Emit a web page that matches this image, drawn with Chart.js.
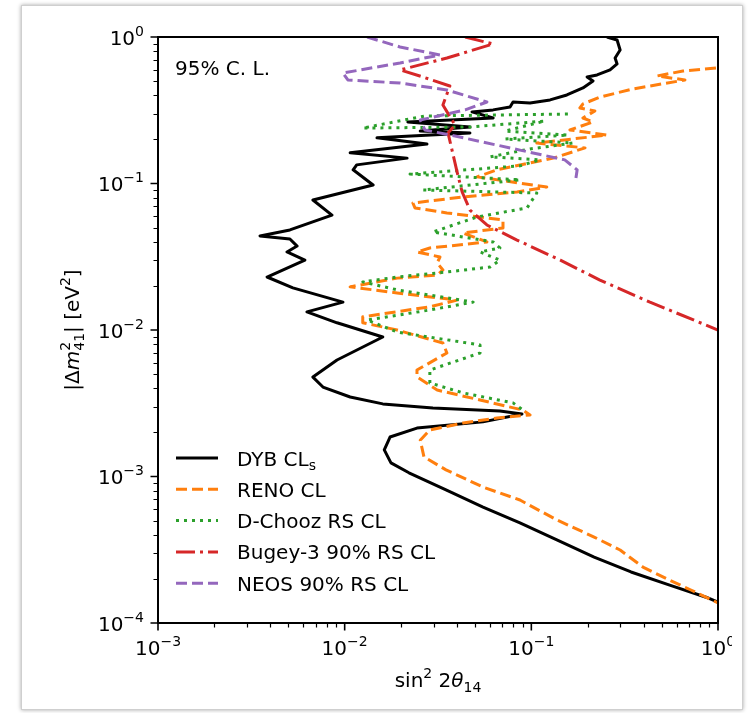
<!DOCTYPE html>
<html>
<head>
<meta charset="utf-8">
<script src="https://cdn.jsdelivr.net/npm/chart.js@4.4.1/dist/chart.umd.min.js"></script>
<style>
    html, body { margin: 0; padding: 0; background: #fff; }
    body { width: 748px; height: 713px; position: relative; overflow: hidden; }
    #card { position: absolute; left: 21px; top: 5px; width: 720px; height: 703px;
            border: 1px solid #cfcfcf; box-shadow: 0 0 4px rgba(0,0,0,0.35); background: #fff; }
    #clip { position: absolute; left: 0; top: 0; width: 732px; height: 708px; overflow: hidden; }
    canvas { display: block; }
</style>
</head>
<body>
<div id="card"></div>
<div id="clip"><canvas id="contourChart" width="748" height="713"></canvas></div>
<script>
// exclusion contours: sin^2(2 theta14) vs |dm41^2| [eV^2]
const dybSin2 = [0.254, 0.288, 0.299, 0.281, 0.288, 0.264, 0.225, 0.199, 0.214, 0.189, 0.155, 0.126, 0.0984, 0.0798,
    0.0769, 0.0624, 0.0481, 0.0624, 0.0218, 0.0469, 0.0254, 0.0469, 0.0149, 0.0276, 0.0107, 0.0216, 0.0116, 0.0111,
    0.0142, 0.00676, 0.00855, 0.00509, 0.00352, 0.00509, 0.00556, 0.00491, 0.00612, 0.00384, 0.00528, 0.00979,
    0.00628, 0.00910, 0.0160, 0.00910, 0.00676, 0.00765, 0.0107, 0.0160, 0.0297, 0.0679, 0.0891, 0.0551, 0.0244,
    0.0175, 0.0163, 0.0177, 0.0221, 0.0349, 0.0551, 0.0869, 0.137, 0.217, 0.342, 0.546, 0.863, 1.0];
const dybDm2 = [1.0, 0.954, 0.815, 0.719, 0.655, 0.596, 0.551, 0.533, 0.501, 0.449, 0.402, 0.372, 0.354, 0.360,
    0.333, 0.318, 0.308, 0.280, 0.263, 0.243, 0.228, 0.221, 0.205, 0.186, 0.162, 0.149, 0.134, 0.124,
    0.0977, 0.0771, 0.0609, 0.0482, 0.0438, 0.0418, 0.0374, 0.0341, 0.0300, 0.0230, 0.0194, 0.0155,
    0.0133, 0.0112, 0.00896, 0.00624, 0.00477, 0.00408, 0.00349, 0.00313, 0.00294, 0.00280, 0.00267, 0.00236, 0.00214,
    0.00186, 0.00152, 0.00124, 0.00106, 0.000809, 0.000619, 0.000482, 0.000369, 0.000282, 0.000223, 0.000182, 0.000150, 0.000139];

const renoSin2 = [0.975, 0.649, 0.471, 0.665, 0.351, 0.233, 0.189, 0.182, 0.219, 0.189, 0.214, 0.161, 0.254, 0.107,
    0.194, 0.131, 0.0655, 0.0512, 0.121, 0.0838, 0.0431, 0.0232, 0.0238, 0.0353, 0.0705, 0.0705, 0.0431, 0.0578,
    0.0286, 0.0244, 0.0324, 0.0313, 0.0336, 0.0313, 0.0191, 0.0107, 0.0191, 0.0400, 0.0286, 0.0125, 0.0125, 0.0191,
    0.0336, 0.0353, 0.0244, 0.0244, 0.0313, 0.0531, 0.0901, 0.0984, 0.0655, 0.0431, 0.0286, 0.0254, 0.0266, 0.0349,
    0.0551, 0.0869, 0.137, 0.217, 0.299, 0.396, 0.546, 0.716, 1.0];
const renoDm2 = [0.614, 0.586, 0.542, 0.509, 0.442, 0.389, 0.349, 0.328, 0.313, 0.280, 0.263, 0.232, 0.214, 0.189,
    0.175, 0.149, 0.124, 0.111, 0.0946, 0.0875, 0.0809, 0.0736, 0.0681, 0.0630, 0.0564, 0.0497, 0.0459, 0.0399,
    0.0363, 0.0341, 0.0315, 0.0287, 0.0257, 0.0237, 0.0226, 0.0197, 0.0179, 0.0160, 0.0144, 0.0123, 0.0112, 0.0100,
    0.00815, 0.00697, 0.00533, 0.00478, 0.00389, 0.00333, 0.00284, 0.00263, 0.00251, 0.00232, 0.00208, 0.00177, 0.00136, 0.00111,
    0.000847, 0.000691, 0.000505, 0.000386, 0.000315, 0.000241, 0.000197, 0.000168, 0.000137];

const dchoozSin2 = [0.157, 0.0269, 0.0125, 0.0469, 0.118, 0.0723, 0.157, 0.0723, 0.167, 0.0984, 0.0601, 0.111, 0.0869,
    0.0224, 0.0869, 0.0263, 0.107, 0.0948, 0.0512, 0.0297, 0.0624, 0.0679, 0.0531, 0.0679, 0.0601, 0.0353, 0.0191,
    0.0125, 0.0191, 0.0488, 0.0286, 0.0132, 0.0191, 0.0531, 0.0531, 0.0286, 0.0286, 0.0431, 0.0798, 0.0901];
const dchoozDm2 = [0.298, 0.289, 0.239, 0.243, 0.267, 0.228, 0.214, 0.201, 0.189, 0.172, 0.152, 0.145, 0.132,
    0.116, 0.106, 0.0903, 0.0861, 0.0681, 0.0591, 0.0467, 0.0399, 0.0363, 0.0341, 0.0300, 0.0269, 0.0249, 0.0230,
    0.0213, 0.0188, 0.0155, 0.0137, 0.0117, 0.00969, 0.00790, 0.00697, 0.00533, 0.00435, 0.00372, 0.00318, 0.00284];

const bugeySin2 = [0.0442, 0.0624, 0.0353, 0.0198, 0.0263, 0.0366, 0.0336, 0.0390, 0.0358, 0.0376, 0.0400, 0.0426,
    0.0469, 0.0578, 0.0838, 0.143, 0.233, 0.432, 1.0];
const bugeyDm2 = [1.0, 0.896, 0.719, 0.596, 0.533, 0.463, 0.343, 0.251, 0.221, 0.169, 0.120, 0.0875,
    0.0659, 0.0521, 0.0411, 0.0300, 0.0219, 0.0155, 0.0100];

const neosSin2 = [0.0132, 0.0198, 0.0324, 0.0198, 0.00979, 0.0104, 0.0198, 0.0353, 0.0578, 0.0442, 0.0254, 0.0269,
    0.0390, 0.0869, 0.151, 0.176, 0.172];
const neosDm2 = [1.0, 0.855, 0.754, 0.665, 0.568, 0.509, 0.485, 0.435, 0.360, 0.318, 0.271, 0.232,
    0.211, 0.169, 0.145, 0.124, 0.102];

const seriesNames = ['DYB CL', 'RENO CL', 'D-Chooz RS CL', 'Bugey-3 90% RS CL', 'NEOS 90% RS CL'];
const seriesSubs = ['s', '', '', '', ''];
const xTickExps = [-3, -2, -1, 0];
const yTickExps = [-4, -3, -2, -1, 0];
const noteText = '95% C. L.';

const FONT = 'DejaVu Sans';

function zip(xs, ys) {
    var n = Math.min(xs.length, ys.length), out = [];
    for (var i = 0; i < n; i++) out.push({ x: xs[i], y: ys[i] });
    return out;
}

function setFont(ctx, size, italic) {
    ctx.font = (italic ? 'italic ' : '') + size + 'px "' + FONT + '"';
}

// small rich text: parts with size, baseline shift, italic, keep (=no advance, for stacked sup/sub)
function richWidth(ctx, parts) {
    var w = 0;
    parts.forEach(function(p) {
        setFont(ctx, p.size || 20, p.italic);
        if (!p.keep) w += ctx.measureText(p.t).width;
    });
    return w;
}

function drawRich(ctx, parts, x, y, align) {
    var w = richWidth(ctx, parts);
    var cx = align === 'center' ? x - w / 2 : (align === 'right' ? x - w : x);
    ctx.textAlign = 'left';
    ctx.textBaseline = 'alphabetic';
    parts.forEach(function(p) {
        setFont(ctx, p.size || 20, p.italic);
        ctx.fillText(p.t, cx, y + (p.dy || 0));
        if (!p.keep) cx += ctx.measureText(p.t).width;
    });
}

function powLabel(e) {
    return [{ t: '10', size: 20 }, { t: (e < 0 ? '\u2212' + (-e) : String(e)), size: 14, dy: -9 }];
}

function makeSet(label, xs, ys, color, dash, order) {
    return {
        label: label,
        data: zip(xs, ys),
        showLine: true,
        borderColor: color,
        backgroundColor: color,
        borderWidth: 3,
        borderDash: dash,
        borderJoinStyle: 'round',
        pointRadius: 0,
        pointHoverRadius: 0,
        tension: 0,
        fill: false,
        order: order
    };
}

// ticks, labels, frame, legend and titles
var decorPlugin = {
    id: 'decor',
    afterDatasetsDraw: function(chart) {
        var ctx = chart.ctx, a = chart.chartArea;
        var xs = chart.scales.x, ys = chart.scales.y;
        ctx.save();
        ctx.strokeStyle = '#000';
        ctx.fillStyle = '#000';

        // minor ticks
        ctx.lineWidth = 1.2;
        ctx.beginPath();
        for (var e = xTickExps[0]; e < xTickExps[xTickExps.length - 1]; e++) {
            for (var m = 2; m <= 9; m++) {
                var px = Math.round(xs.getPixelForValue(m * Math.pow(10, e))) + 0.5;
                ctx.moveTo(px, a.bottom); ctx.lineTo(px, a.bottom + 4.5);
            }
        }
        for (var e2 = yTickExps[0]; e2 < yTickExps[yTickExps.length - 1]; e2++) {
            for (var m2 = 2; m2 <= 9; m2++) {
                var py = Math.round(ys.getPixelForValue(m2 * Math.pow(10, e2))) + 0.5;
                ctx.moveTo(a.left, py); ctx.lineTo(a.left - 4.5, py);
            }
        }
        ctx.stroke();

        // major ticks + labels
        ctx.lineWidth = 1.6;
        ctx.beginPath();
        xTickExps.forEach(function(e) {
            var px = xs.getPixelForValue(Math.pow(10, e));
            ctx.moveTo(px, a.bottom); ctx.lineTo(px, a.bottom + 7.5);
        });
        yTickExps.forEach(function(e) {
            var py = ys.getPixelForValue(Math.pow(10, e));
            ctx.moveTo(a.left, py); ctx.lineTo(a.left - 7.5, py);
        });
        ctx.stroke();
        xTickExps.forEach(function(e) {
            drawRich(ctx, powLabel(e), xs.getPixelForValue(Math.pow(10, e)), a.bottom + 32, 'center');
        });
        yTickExps.forEach(function(e) {
            drawRich(ctx, powLabel(e), a.left - 14, ys.getPixelForValue(Math.pow(10, e)) + 7.5, 'right');
        });

        // frame
        ctx.lineWidth = 2;
        ctx.strokeRect(a.left, a.top, a.right - a.left, a.bottom - a.top);

        // axis titles
        drawRich(ctx, [
            { t: 'sin' }, { t: '2', size: 14, dy: -9 }, { t: ' 2' }, { t: '\u03b8', italic: true },
            { t: '14', size: 14, dy: 5 }
        ], (a.left + a.right) / 2, a.bottom + 64, 'center');

        ctx.save();
        ctx.translate(79, (a.top + a.bottom) / 2);
        ctx.rotate(-Math.PI / 2);
        drawRich(ctx, [
            { t: '|' }, { t: '\u0394' }, { t: 'm', italic: true },
            { t: '2', size: 14, dy: -9, keep: true }, { t: '41', size: 14, dy: 5 },
            { t: '|' }, { t: ' [eV' }, { t: '2', size: 14, dy: -9 }, { t: ']' }
        ], 0, 0, 'center');
        ctx.restore();

        // note
        drawRich(ctx, [{ t: noteText }], a.left + 17, a.top + 38, 'left');

        // legend
        chart.data.datasets.forEach(function(ds, i) {
            var cy = 458 + i * 31.3;
            ctx.save();
            ctx.strokeStyle = ds.borderColor;
            ctx.lineWidth = ds.borderWidth;
            ctx.setLineDash(ds.borderDash);
            ctx.beginPath();
            ctx.moveTo(a.left + 18, cy);
            ctx.lineTo(a.left + 60, cy);
            ctx.stroke();
            ctx.restore();
            var parts = [{ t: seriesNames[i] }];
            if (seriesSubs[i]) parts.push({ t: seriesSubs[i], size: 14, dy: 4 });
            drawRich(ctx, parts, a.left + 79, cy + 7.5, 'left');
        });
        ctx.restore();
    }
};

var ctx = document.getElementById('contourChart').getContext('2d');
var contourChart = new Chart(ctx, {
    type: 'scatter',
    data: {
        datasets: [
            makeSet(seriesNames[0], dybSin2, dybDm2, '#000000', [], 5),
            makeSet(seriesNames[1], renoSin2, renoDm2, '#ff7f0e', [11, 5], 4),
            makeSet(seriesNames[2], dchoozSin2, dchoozDm2, '#2ca02c', [3, 5], 3),
            makeSet(seriesNames[3], bugeySin2, bugeyDm2, '#d62728', [19, 5, 3, 5], 2),
            makeSet(seriesNames[4], neosSin2, neosDm2, '#9467bd', [11, 5], 1)
        ]
    },
    options: {
        responsive: false,
        animation: false,
        devicePixelRatio: 1,
        layout: { padding: { top: 37, right: 30, left: 0, bottom: 0 } },
        plugins: {
            legend: { display: false },
            tooltip: { enabled: false }
        },
        scales: {
            x: {
                type: 'logarithmic',
                position: 'bottom',
                min: 1e-3,
                max: 1,
                grid: { display: false },
                border: { display: false },
                ticks: { display: false },
                afterFit: function(scale) { scale.height = 90; }
            },
            y: {
                type: 'logarithmic',
                position: 'left',
                min: 1e-4,
                max: 1,
                grid: { display: false },
                border: { display: false },
                ticks: { display: false },
                afterFit: function(scale) { scale.width = 158; }
            }
        }
    },
    plugins: [decorPlugin]
});
</script>
</body>
</html>
